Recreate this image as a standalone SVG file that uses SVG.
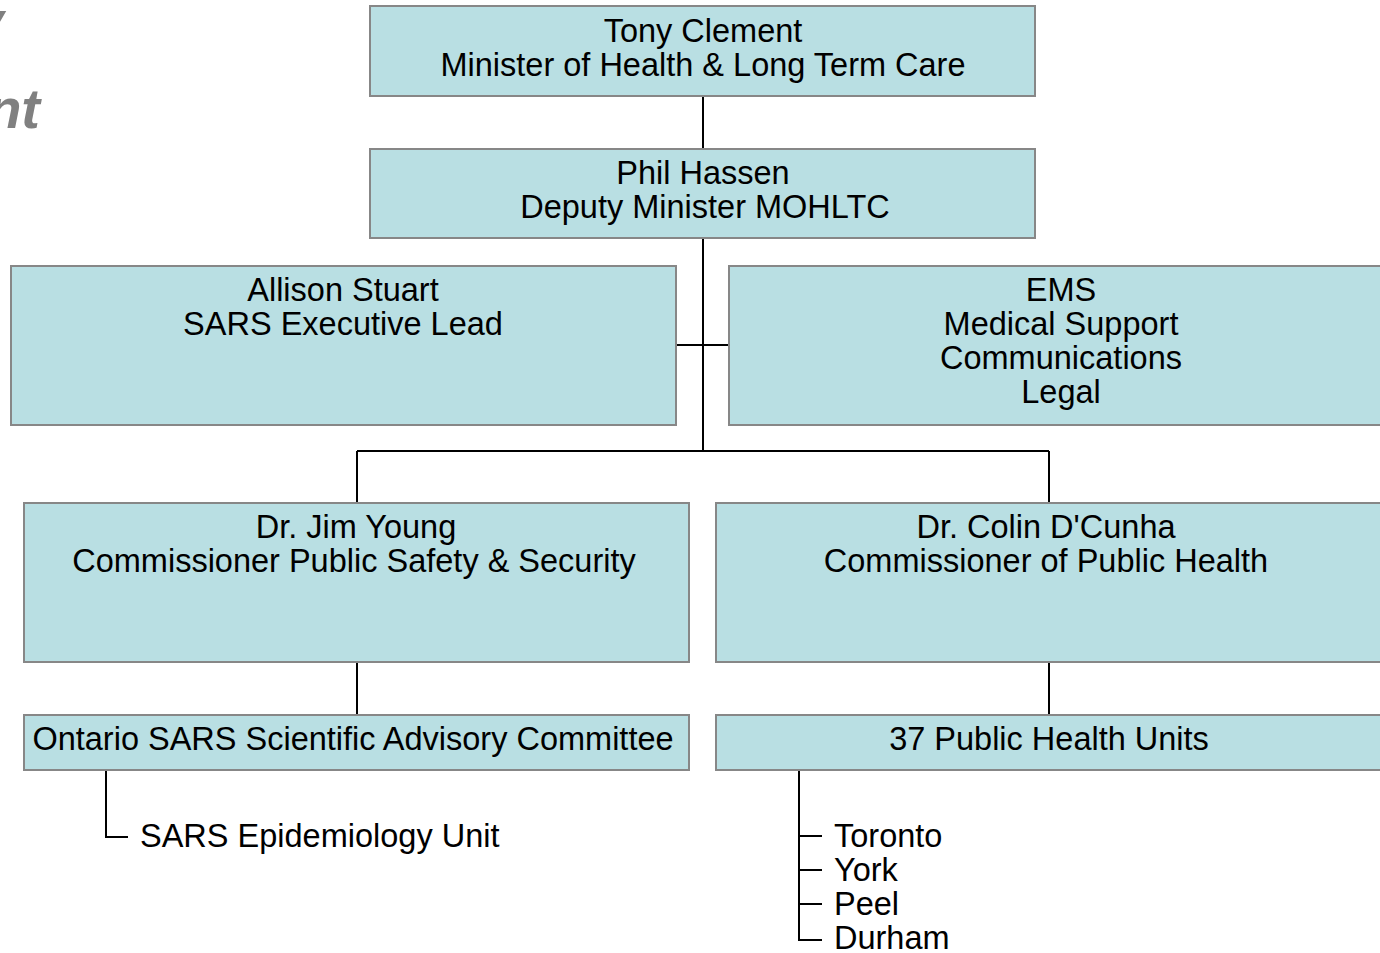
<svg xmlns="http://www.w3.org/2000/svg" width="1380" height="953" viewBox="0 0 1380 953">
<style>
.box{fill:#b9dfe3;stroke:#878787;stroke-width:2}
.t{font-family:"Liberation Sans",Arial,sans-serif;font-size:32.5px;fill:#000}
.c{text-anchor:middle}
.ln{stroke:#000;stroke-width:2;fill:none}
.title{font-family:"Liberation Sans",Arial,sans-serif;font-size:56px;font-weight:bold;font-style:italic;fill:#808080;text-anchor:end}
</style>
<rect width="1380" height="953" fill="#fff"/>
<text class="title" x="4" y="40">y</text>
<text class="title" x="40" y="128">nt</text>
<g id="connectors">
<path class="ln" d="M703 96V149M703 238V451M676 345H729M357 451H1049M357 451V503M1049 451V503M357 662V715M1049 662V715M106 770V837H128M799 770V940H822M799 836H822M799 870H822M799 904H822"/>
</g>
<g id="n1"><rect class="box" x="370" y="6" width="665" height="90"/>
<text class="t c" x="703" y="42">Tony Clement</text><text class="t c" x="703" y="76">Minister of Health &amp; Long Term Care</text></g>
<g id="n2"><rect class="box" x="370" y="149" width="665" height="89"/>
<text class="t c" x="703" y="184">Phil Hassen</text><text class="t c" x="705" y="218">Deputy Minister MOHLTC</text></g>
<g id="n3"><rect class="box" x="11" y="266" width="665" height="159"/>
<text class="t c" x="343" y="301">Allison Stuart</text><text class="t c" x="343" y="335">SARS Executive Lead</text></g>
<g id="n4"><rect class="box" x="729" y="266" width="665" height="159"/>
<text class="t c" x="1061" y="301">EMS</text><text class="t c" x="1061" y="335">Medical Support</text><text class="t c" x="1061" y="369">Communications</text><text class="t c" x="1061" y="403">Legal</text></g>
<g id="n5"><rect class="box" x="24" y="503" width="665" height="159"/>
<text class="t c" x="356" y="538">Dr. Jim Young</text><text class="t c" x="354" y="572">Commissioner Public Safety &amp; Security</text></g>
<g id="n6"><rect class="box" x="716" y="503" width="680" height="159"/>
<text class="t c" x="1046" y="538">Dr. Colin D'Cunha</text><text class="t c" x="1046" y="572">Commissioner of Public Health</text></g>
<g id="n7"><rect class="box" x="24" y="715" width="665" height="55"/>
<text class="t c" x="353" y="750">Ontario SARS Scientific Advisory Committee</text></g>
<g id="n8"><rect class="box" x="716" y="715" width="680" height="55"/>
<text class="t c" x="1049" y="750">37 Public Health Units</text></g>
<g id="n9"><text class="t" x="140" y="847">SARS Epidemiology Unit</text></g>
<g id="n10"><text class="t" x="834" y="847">Toronto</text><text class="t" x="834" y="881">York</text><text class="t" x="834" y="915">Peel</text><text class="t" x="834" y="949">Durham</text></g>
</svg>
